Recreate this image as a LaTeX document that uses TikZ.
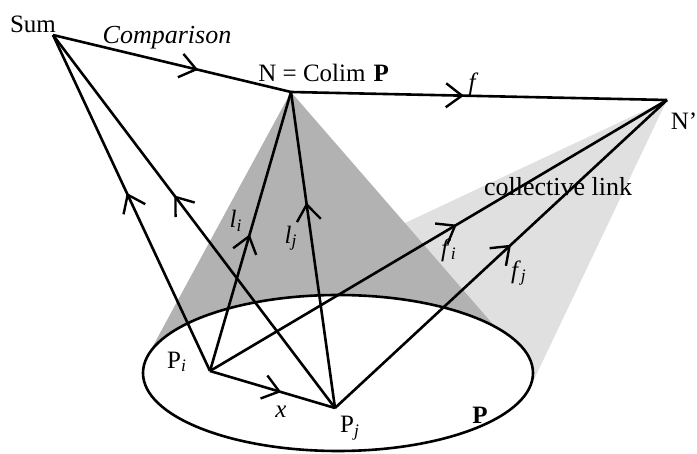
\documentclass[tikz,border=0pt]{standalone}
\usepackage{fontspec}
\setmainfont{Liberation Serif}
\usetikzlibrary{arrows.meta,decorations.markings}
\newcommand{\mysub}[1]{\textsubscript{\itshape #1}}
\tikzset{
  edge/.style={line width=1.3pt},
  midarrow/.style={postaction={decorate},decoration={markings,
     mark=at position #1 with {\arrow[line width=1.2pt]{Straight Barb[length=8pt,width=12pt]}}}},
  lbl/.style={font=\fontsize{12.5}{14}\selectfont, inner sep=0pt},
}
\begin{document}
\begin{tikzpicture}[x=0.5pt,y=-0.5pt]
\useasboundingbox (0,0) rectangle (697,454);
% points
\coordinate (Sum) at (53,35);
\coordinate (N) at (291,92);
\coordinate (Np) at (667,100);
\coordinate (Pi) at (210,371);
\coordinate (Pj) at (335,408);
\coordinate (E) at (338,373);
% light stippled region
\coordinate (LA) at (405,223);
\coordinate (LB) at (420,330);
\coordinate (LC) at (530,388);
\fill[black!12] (Np) -- (LA) -- (LB) -- (LC) -- cycle;
% dark cone
\coordinate (CL) at (147,357);
\coordinate (CR) at (497,329);
\fill[black!30] (N) -- (CL) -- (CR) -- cycle;
% ellipse
\draw[line width=1.3pt, fill=white] (E) ellipse [x radius=195, y radius=78];
% connectors
\draw[edge, midarrow=0.61] (Sum) -- (N);
\draw[edge, midarrow=0.46] (N) -- (Np);
\draw[edge, midarrow=0.53] (Pi) -- (Sum);
\draw[edge, midarrow=0.57] (Pj) -- (Sum);
\draw[edge, midarrow=0.49] (Pi) -- (N);
\draw[edge, midarrow=0.65] (Pj) -- (N);
\draw[edge, midarrow=0.54] (Pi) -- (Np);
\draw[edge, midarrow=0.53] (Pj) -- (Np);
\draw[edge, midarrow=0.57] (Pi) -- (Pj);
% labels
\node[lbl] (tSum) at (33,24) {Sum};
\node[lbl, font=\fontsize{13}{15}\selectfont\itshape] (tComp) at (167,38) {Comparison};
\node[lbl, anchor=base west] (tN) at (258,82) {N = Colim\hspace{4pt}\textbf{P}};
\node[lbl, font=\fontsize{12.5}{14}\selectfont\itshape] (tf) at (472,84) {f};
\node[lbl] (tNp) at (684,121) {N'};
\node[lbl, font=\fontsize{13}{15}\selectfont] (tcl) at (558,187) {collective link};
\node[lbl] (tli) at (236,221) {\textit{l}\mysub{i}};
\node[lbl] (tlj) at (291,238) {\textit{l}\mysub{j}};
\node[lbl] (tfi) at (449,250) {\textit{f}\mysub{i}};
\node[lbl] (tfj) at (519,273) {\textit{f}\mysub{j}};
\node[lbl] (tPi) at (177,362) {P\mysub{i}};
\node[lbl] (tPj) at (350,428) {P\mysub{j}};
\node[lbl, font=\fontsize{12.5}{14}\selectfont\itshape] (tx) at (281,412) {x};
\node[lbl] (tP) at (480,415) {\textbf{P}};
\end{tikzpicture}
\end{document}
